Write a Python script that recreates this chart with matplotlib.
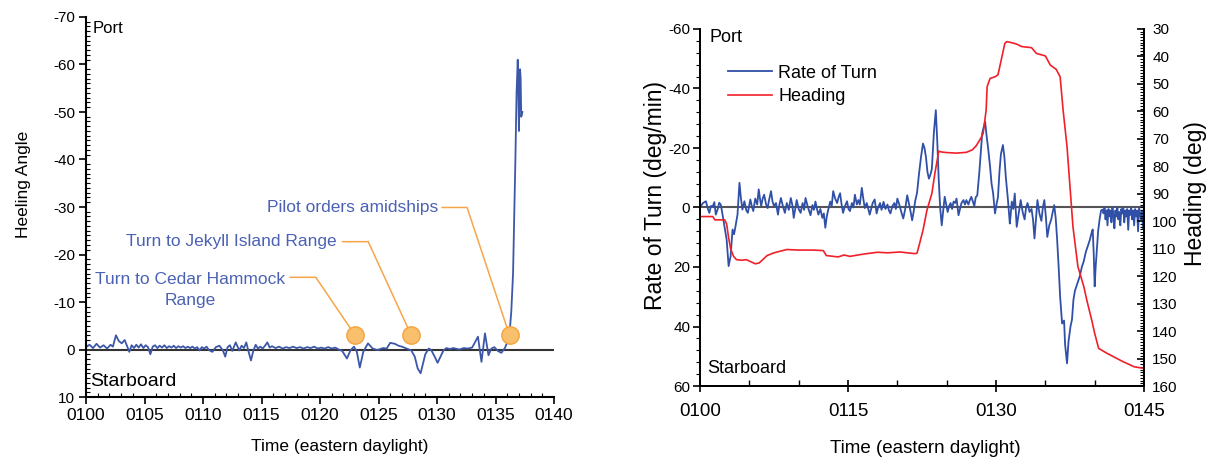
import matplotlib
matplotlib.use("Agg")
import matplotlib.pyplot as plt
from matplotlib.ticker import MultipleLocator
import numpy as np

plt.rcParams['font.family'] = ['Liberation Sans', 'DejaVu Sans']
plt.rcParams['axes.unicode_minus'] = False

# ---- left chart: heeling angle (minutes after 0100, degrees; negative = port)
heel_points = [
    (0.0, -0.5), (0.3, -1.0), (0.6, -0.3), (0.9, -1.2), (1.2, -0.4), (1.5, -0.9),
    (1.8, -0.2), (2.1, -1.0), (2.3, -0.6), (2.56, -3.0), (2.8, -1.8), (3.05, -1.3),
    (3.3, -2.0), (3.5, -0.8), (3.7, 0.5), (3.9, -0.9), (4.1, -0.3), (4.3, -1.0),
    (4.5, -0.4), (4.7, -1.1), (4.9, -0.3), (5.1, -0.9), (5.3, -0.5), (5.5, 1.0),
    (5.7, -0.6), (5.9, -0.9), (6.1, -0.3), (6.3, -0.8), (6.5, -0.4), (6.7, -0.9),
    (6.9, -0.3), (7.1, -0.7), (7.3, -0.4), (7.5, -0.8), (7.7, -0.3), (7.9, -0.7),
    (8.1, -0.4), (8.3, -0.7), (8.5, -0.3), (8.7, -0.6), (8.9, -0.3), (9.1, -0.6),
    (9.3, -0.2), (9.5, -0.5), (9.7, 0.2), (9.9, -0.5), (10.1, -0.2), (10.3, -0.6),
    (10.5, 0.1), (10.8, 0.5), (11.1, -0.5), (11.4, -0.8), (11.7, 0.2), (11.9, 1.5),
    (12.1, -0.5), (12.3, -0.9), (12.5, 0.3), (12.8, -1.5), (13.1, 0.2), (13.3, -0.8),
    (13.5, -0.3), (13.7, -1.5), (13.9, 0.5), (14.1, 2.3), (14.3, 0.3), (14.5, -1.0),
    (14.7, -0.2), (14.9, -0.6), (15.1, -0.2), (15.3, -0.8), (15.5, -1.5), (15.7, -0.4),
    (15.9, -0.7), (16.2, -0.3), (16.5, -0.6), (16.8, -0.2), (17.1, -0.5), (17.4, -0.3),
    (17.7, -0.6), (18.0, -0.3), (18.3, -0.5), (18.6, -0.2), (18.9, -0.5), (19.2, -0.3),
    (19.5, -0.6), (19.8, -0.2), (20.1, -0.4), (20.4, -0.2), (20.7, -0.5), (21.0, -0.2),
    (21.3, -0.4), (21.6, 0.0), (21.9, 0.3), (22.3, 1.9), (22.6, 0.2), (22.9, -0.6),
    (23.15, 0.5), (23.4, 3.8), (23.7, 0.5), (24.1, -1.3), (24.5, -0.2), (24.9, 0.1),
    (25.4, -0.3), (25.7, -0.2), (26.0, -1.4), (26.4, -1.2), (26.7, -0.8), (27.0, -0.6),
    (27.3, -0.3), (27.8, 0.2), (28.1, 1.5), (28.35, 4.0), (28.6, 5.0), (28.85, 2.5),
    (29.0, 1.0), (29.3, -0.2), (29.5, 0.1), (29.8, 1.5), (30.05, 2.8), (30.3, 1.5),
    (30.55, 0.2), (30.8, -0.3), (31.1, -0.1), (31.4, -0.3), (31.9, 0.0), (32.3, -0.3),
    (32.6, -0.2), (33.0, -0.4), (33.2, -1.3), (33.5, -2.7), (33.8, 2.6), (34.1, -3.4),
    (34.4, 1.2), (34.65, -0.2), (34.9, -0.5), (35.2, 0.3), (35.5, 0.7), (35.8, -0.3),
    (36.0, -1.5), (36.2, -3.4), (36.35, -8), (36.5, -16), (36.6, -28), (36.7, -40),
    (36.8, -54), (36.9, -61), (36.95, -55), (37.0, -46), (37.05, -52), (37.1, -59),
    (37.15, -57), (37.2, -49), (37.3, -50),
]
left_xticklabels = ['0100', '0105', '0110', '0115', '0120', '0125', '0130', '0135', '0140']

# event markers: (time, angle) and the notes pointing at them
event_t = [23.0, 27.8, 36.2]
event_v = [-3.0, -3.0, -3.0]
notes = ['Turn to Cedar Hammock\nRange', 'Turn to Jekyll Island Range', 'Pilot orders amidships']
note_xy = [(8.87, -12.5), (21.4, -22.7), (30.1, -29.9)]
leader_start = [(17.45, -15.2), (21.93, -22.7), (30.44, -29.9)]
leader_knee = [(19.64, -15.2), (24.12, -22.7), (32.57, -29.9)]

# ---- right chart: rate of turn (deg/min) and heading (deg)
rot_points = [
    (0.0, 0), (0.3, -1.5), (0.6, -2.1), (0.8, 0.5), (0.95, 1.8), (1.1, -0.5), (1.3, -0.4),
    (1.45, -1.8), (1.6, 2.4), (1.8, 0.5), (1.95, -1.6), (2.1, -1.0), (2.2, 0.7), (2.45, 5.7),
    (2.7, 10.8), (2.9, 19.7), (3.1, 16.4), (3.3, 7.4), (3.45, 9.0), (3.6, 6.3), (3.8, 2.4),
    (4.0, -8.3), (4.15, -3.0), (4.3, 0.7), (4.5, -2.1), (4.7, 1.0), (4.85, 1.8), (5.1, -2.7),
    (5.25, -0.5), (5.4, 1.2), (5.6, -3.0), (5.8, -1.0), (5.95, -6.1), (6.1, -2.5), (6.2, -0.5),
    (6.35, -3.0), (6.5, -4.3), (6.7, -1.0), (6.85, 0.2), (7.0, -2.5), (7.2, -5.5), (7.35, -2.0),
    (7.5, -0.5), (7.7, -1.5), (7.9, 2.4), (8.05, -1.0), (8.2, -3.2), (8.4, -0.5), (8.6, 1.8),
    (8.8, -1.5), (9.0, 0.8), (9.2, -3.2), (9.35, -1.0), (9.5, 3.5), (9.65, 0.5), (9.8, -2.5),
    (10.0, 0.5), (10.2, 1.8), (10.4, -1.5), (10.55, 0.8), (10.7, -3.2), (10.9, -0.5),
    (11.05, 1.0), (11.2, 2.6), (11.4, -0.8), (11.55, 0.8), (11.7, -2.0), (11.85, 0.5),
    (12.0, 2.4), (12.2, 0.5), (12.4, 3.5), (12.55, 2.0), (12.7, 6.8), (12.85, 3.0),
    (13.0, 0.7), (13.2, -2.0), (13.35, -0.5), (13.5, -5.5), (13.7, -3.0), (13.9, -1.5),
    (14.05, -3.5), (14.2, -4.8), (14.35, -1.0), (14.5, 1.8), (14.7, -0.5), (14.9, -2.1),
    (15.05, 0.5), (15.2, 1.2), (15.4, -1.5), (15.55, 0.0), (15.7, -4.3), (15.9, -1.0),
    (16.05, -2.5), (16.2, -1.0), (16.4, -6.6), (16.55, -3.0), (16.7, 0.2), (16.9, -1.5),
    (17.05, 0.5), (17.2, 2.4), (17.35, 0.5), (17.5, -1.5), (17.7, -2.7), (17.9, 2.0),
    (18.05, 0.0), (18.25, -1.5), (18.4, 0.8), (18.6, -1.9), (18.8, 0.5), (19.0, -1.0),
    (19.15, 1.0), (19.3, 2.0), (19.5, -0.5), (19.7, -1.5), (19.85, 0.5), (20.0, -3.0),
    (20.2, -1.0), (20.4, 1.5), (20.6, 3.7), (20.8, 0.5), (21.0, -4.1), (21.2, -1.0),
    (21.35, 1.5), (21.5, 4.3), (21.65, 1.5), (21.8, -2.0), (22.0, -5.0), (22.2, -11.4),
    (22.4, -17.0), (22.6, -21.5), (22.75, -20.0), (22.9, -17.0), (23.05, -12.0), (23.2, -9.7),
    (23.35, -11.0), (23.5, -13.0), (23.7, -25.0), (23.9, -32.7), (24.05, -22.0), (24.2, -9.0),
    (24.35, 0.5), (24.5, 6.0), (24.65, 1.0), (24.8, -3.6), (24.95, -1.0), (25.1, 1.5),
    (25.25, -0.5), (25.4, -1.5), (25.55, 0.5), (25.7, -2.0), (25.85, -1.5), (26.0, -3.0),
    (26.2, 2.6), (26.35, 0.5), (26.5, -1.5), (26.7, -2.5), (26.85, -1.0), (27.0, -2.5),
    (27.2, -1.0), (27.35, -2.5), (27.5, -3.6), (27.65, -2.0), (27.8, -0.5), (27.95, -3.5),
    (28.1, -4.0), (28.3, -11.4), (28.45, -18.0), (28.6, -24.9), (28.75, -27.0), (28.9, -28.8),
    (29.05, -24.0), (29.2, -20.0), (29.4, -13.7), (29.55, -8.0), (29.7, -5.0), (29.9, 2.0),
    (30.05, -1.0), (30.2, -3.5), (30.35, -12.0), (30.5, -18.0), (30.7, -21.0), (30.85, -17.0),
    (31.0, -10.0), (31.2, -3.0), (31.4, 5.4), (31.5, 2.0), (31.6, -2.0), (31.75, 0.5),
    (31.9, -4.7), (32.0, 1.0), (32.1, 6.5), (32.3, 2.0), (32.5, -2.5), (32.7, 1.5),
    (32.9, 4.0), (33.05, 0.0), (33.2, -1.5), (33.4, 1.5), (33.6, 0.5), (33.75, 4.0),
    (33.9, 10.4), (34.05, 4.0), (34.2, -2.5), (34.4, 2.0), (34.6, 4.5), (34.75, 0.0),
    (34.9, -2.5), (35.05, 3.0), (35.2, 9.9), (35.4, 6.0), (35.6, 4.0), (35.75, 1.5),
    (35.9, -0.8), (36.05, 3.5), (36.2, 11.0), (36.35, 20.0), (36.5, 30.0), (36.7, 39.0),
    (36.9, 38.0), (37.0, 46.0), (37.2, 52.4), (37.35, 45.0), (37.55, 40.0), (37.7, 37.7),
    (37.85, 31.0), (38.0, 28.0), (38.3, 25.0), (38.5, 23.0), (38.7, 20.0), (38.9, 18.0),
    (39.1, 15.0), (39.3, 13.0), (39.5, 11.0), (39.65, 9.0), (39.8, 7.4), (39.9, 15.0),
    (40.0, 26.5), (40.1, 20.0), (40.2, 15.0), (40.35, 8.0), (40.5, 4.0), (40.65, 1.0),
    (40.8, 0.7), (40.9, 2), (41.0, 0), (41.1, 4), (41.2, 1), (41.3, 6), (41.4, 0.5),
    (41.5, 3), (41.6, 1), (41.7, 5), (41.8, 0), (41.9, 2.5), (42.0, 7), (42.1, 1),
    (42.2, 3), (42.3, 0), (42.4, 4), (42.5, 1.5), (42.6, 6), (42.7, 0.5), (42.8, 2),
    (42.9, 0), (43.0, 5), (43.1, 1), (43.2, 3), (43.3, 0.5), (43.4, 7.5), (43.5, 1),
    (43.6, 2.5), (43.7, 0), (43.8, 4), (43.9, 1), (44.0, 6), (44.1, 0.5), (44.2, 3),
    (44.3, 1), (44.4, 8), (44.5, 0), (44.6, 2), (44.7, 4), (44.8, 1), (44.9, 7), (45.0, 2),
]
heading_points = [
    (0, 98.3), (1.3, 98.3), (1.5, 99.5), (2.5, 99.5), (2.7, 101), (2.9, 106), (3.1, 110),
    (3.4, 112.8), (3.7, 114), (4.2, 114.2), (4.7, 114), (5.6, 115.5), (6.0, 115.2),
    (6.8, 112.5), (7.5, 111.5), (8.8, 110.3), (10.0, 110.5), (11.5, 110.5), (12.5, 110.7),
    (12.8, 112.5), (13.3, 112.7), (14.0, 113), (14.6, 112.3), (15.2, 112.8), (16.0, 112.3),
    (16.9, 111.8), (18.0, 111.3), (19.0, 111.5), (20.3, 111.2), (21.0, 111.5), (21.8, 111.8),
    (22.0, 111.6), (22.3, 107.5), (22.6, 103.3), (23.0, 96.0), (23.5, 89.9), (23.8, 82.7),
    (24.2, 74.5), (24.5, 74.8), (25.0, 75.0), (26.0, 75.2), (27.0, 74.9), (27.6, 74.0),
    (28.0, 72.5), (28.5, 69.5), (28.7, 68.0), (29.0, 59.5), (29.1, 51.0), (29.4, 48.0),
    (29.9, 47.4), (30.2, 46.7), (30.6, 40.1), (30.9, 35.2), (31.1, 34.6), (31.6, 35.0),
    (32.1, 35.5), (32.6, 36.4), (33.6, 36.8), (34.1, 38.9), (35.0, 39.8), (35.5, 43.1),
    (36.1, 44.7), (36.5, 47.4), (36.8, 59.5), (37.2, 72.9), (37.5, 87.5), (37.8, 102),
    (38.3, 116.5), (38.9, 123.8), (39.2, 128.7), (39.7, 136), (40.0, 140.8), (40.4, 146.3),
    (41.2, 148), (42.0, 149.5), (42.8, 151), (44.0, 153), (45.0, 153.6),
]
right_xticklabels = ['0100', '0115', '0130', '0145']

W, H = 1211, 461
fig = plt.figure(figsize=(W / 100, H / 100), dpi=100)

def box(x0, x1, ytop, ybot):
    return [x0 / W, 1 - ybot / H, (x1 - x0) / W, (ybot - ytop) / H]

blue = '#3d57a8'
note_blue = '#4b62b4'
orange = '#f5a64a'

# ---------------- left chart
ax = fig.add_axes(box(86, 554, 17, 397))
ht, hv = np.array(heel_points).T
ax.axhline(0, color='#333333', lw=1.5, zorder=1)
ax.plot(ht, hv, color=blue, lw=1.3, zorder=2)
for i in range(3):
    xs = [leader_start[i][0], leader_knee[i][0], event_t[i]]
    ys = [leader_start[i][1], leader_knee[i][1], event_v[i]]
    ax.plot(xs, ys, color=orange, lw=1.1, zorder=3)
ax.plot(event_t, event_v, 'o', ms=12.5, mfc='#f8bf6c', mec='#f3a23c', mew=1.0, zorder=4)
ax.text(note_xy[0][0], note_xy[0][1], notes[0], color=note_blue, ha='center', va='center',
        fontsize=12.5, linespacing=1.45)
ax.text(note_xy[1][0], note_xy[1][1], notes[1], color=note_blue, ha='right', va='center',
        fontsize=12.5)
ax.text(note_xy[2][0], note_xy[2][1], notes[2], color=note_blue, ha='right', va='center',
        fontsize=12.5)

ax.set_xlim(0, 40)
ax.set_ylim(10, -70)
ax.set_xticks(np.arange(len(left_xticklabels)) * 5, left_xticklabels, fontsize=12.5)
ax.xaxis.set_minor_locator(MultipleLocator(1))
ax.yaxis.set_major_locator(MultipleLocator(10))
ax.yaxis.set_minor_locator(MultipleLocator(1))
ax.tick_params(axis='y', which='major', labelsize=11)
ax.tick_params(which='major', direction='out', length=5, width=1.2, pad=3)
ax.tick_params(which='minor', direction='in', length=3, width=0.8)
for s in ['top', 'right']:
    ax.spines[s].set_visible(False)
for s in ['left', 'bottom']:
    ax.spines[s].set_linewidth(1.5)
ax.set_ylabel('Heeling Angle', fontsize=12.5)
ax.yaxis.set_label_coords(-0.118, 0.56)
ax.set_xlabel('Time (eastern daylight)', fontsize=12.5)
ax.xaxis.set_label_coords(0.543, -0.11)
ax.text(0.015, 0.97, 'Port', transform=ax.transAxes, fontsize=12, va='center', ha='left')
ax.text(0.008, 0.04, 'Starboard', transform=ax.transAxes, fontsize=14, va='center', ha='left')

# ---------------- right chart
ax2 = fig.add_axes(box(700, 1144, 29, 386))
ax3 = ax2.twinx()
rt, rv = np.array(rot_points).T
gt, gv = np.array(heading_points).T
ax2.axhline(0, color='#555555', lw=1.5, zorder=1)
l1, = ax2.plot(rt, rv, color='#3050a8', lw=1.3, label='Rate of Turn', zorder=2)
l2, = ax3.plot(gt, gv, color='#f0202a', lw=1.2, label='Heading')

ax2.set_xlim(0, 45)
ax2.set_ylim(60, -60)
ax3.set_ylim(160, 30)
ax2.set_xticks(np.arange(len(right_xticklabels)) * 15, right_xticklabels, fontsize=13.5)
ax2.xaxis.set_minor_locator(MultipleLocator(5))
ax2.yaxis.set_major_locator(MultipleLocator(20))
ax2.yaxis.set_minor_locator(MultipleLocator(4))
ax2.tick_params(axis='y', which='major', labelsize=11)
ax2.tick_params(axis='x', which='major', direction='inout', length=8, width=1.2, pad=8)
ax2.tick_params(axis='x', which='minor', direction='in', length=4, width=1)
ax2.tick_params(axis='y', which='major', direction='out', length=5, width=1.2, pad=2)
ax2.tick_params(axis='y', which='minor', direction='out', length=3, width=0.8)
ax3.yaxis.set_major_locator(MultipleLocator(10))
ax3.yaxis.set_minor_locator(MultipleLocator(1))
ax3.tick_params(which='major', direction='in', length=5, width=1.2, labelsize=11, pad=6)
ax3.tick_params(which='minor', direction='in', length=3, width=0.8)
for a in (ax2, ax3):
    a.spines['top'].set_visible(False)
    for s in ['left', 'bottom', 'right']:
        a.spines[s].set_linewidth(1.3)

ax2.set_ylabel('Rate of Turn (deg/min)', fontsize=16.5)
ax2.yaxis.set_label_coords(-0.074, 0.535)
ax3.set_ylabel('Heading (deg)', fontsize=16.5, rotation=90)
ax3.yaxis.set_label_coords(1.09, 0.54)
ax2.set_xlabel('Time (eastern daylight)', fontsize=13.5)
ax2.xaxis.set_label_coords(0.507, -0.15)
ax2.text(0.022, 0.975, 'Port', transform=ax2.transAxes, fontsize=13, va='center', ha='left')
ax2.text(0.016, 0.05, 'Starboard', transform=ax2.transAxes, fontsize=13, va='center', ha='left')
ax2.legend([l1, l2], ['Rate of Turn', 'Heading'], loc='upper left',
           bbox_to_anchor=(0.064, 0.9), frameon=False, fontsize=13,
           handlelength=2.4, handletextpad=0.35, labelspacing=0.35,
           borderpad=0, borderaxespad=0)

fig.savefig('out.png', dpi=100)
